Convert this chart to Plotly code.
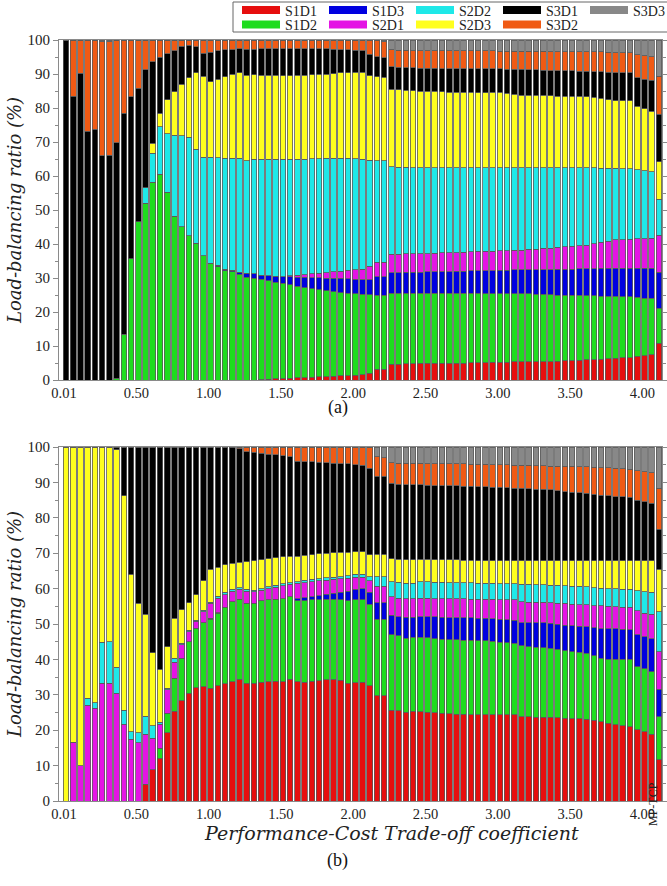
import plotly.graph_objects as go

# ---------------- categories / tick labels ----------------
COEFFS = ["0.01"] + [f"{0.05 * k:.2f}" for k in range(1, 82)] + ["MP-TCP"]
TICK_LABELS = ["0.01", "0.50", "1.00", "1.50", "2.00", "2.50", "3.00", "3.50", "4.00"]

SERIES = ["S1D1", "S1D2", "S1D3", "S2D1", "S2D2", "S2D3", "S3D1", "S3D2", "S3D3"]
COLORS = ["#e60e0e", "#1edc1e", "#0000e0", "#e414e4", "#1ee8e8", "#ffff1e", "#000000", "#f05a14", "#888888"]

# ---------------- panel (a) values (%) ----------------
A_S1D1 = [0, 0, 0, 0, 0, 0, 0, 0, 0, 0,
          0, 0, 0, 0, 0, 0, 0, 0, 0, 0,
          0, 0, 0, 0, 0, 0, 0, 0.1, 0.2, 0.3,
          0.4, 0.5, 0.6, 0.7, 0.8, 0.9, 1.0, 1.1, 1.2, 1.3,
          1.4, 1.5, 2.0, 3.1, 3.1, 4.6, 4.7, 4.8, 4.8, 4.9,
          4.9, 4.9, 5.0, 5.0, 5.0, 5.0, 5.1, 5.1, 5.1, 5.2,
          5.2, 5.2, 5.3, 5.3, 5.3, 5.4, 5.4, 5.4, 5.5, 5.6,
          5.7, 5.8, 5.9, 6.0, 6.1, 6.2, 6.4, 6.5, 6.6, 7.0,
          7.2, 7.4, 10.8]
A_S1D2 = [0, 0, 0, 0, 0, 0, 0, 0.5, 13.5, 35.6,
          46.6, 52.0, 58.1, 60.5, 55.2, 48.2, 45.1, 42.4, 40.2, 36.5,
          34.3, 33.3, 32.2, 31.8, 31.1, 30.2, 30.0, 29.5, 29.0, 28.5,
          28.0, 27.5, 27.0, 26.5, 26.1, 25.7, 25.3, 24.9, 24.5, 24.2,
          23.9, 23.7, 23.1, 21.9, 21.9, 20.9, 20.8, 20.7, 20.7, 20.6,
          20.6, 20.6, 20.5, 20.5, 20.5, 20.5, 20.4, 20.4, 20.3, 20.2,
          20.2, 20.2, 20.0, 20.0, 20.0, 19.8, 19.8, 19.7, 19.5, 19.4,
          19.2, 19.1, 18.9, 18.8, 18.6, 18.5, 18.2, 18.0, 17.9, 17.3,
          16.9, 16.6, 10.3]
A_S1D3 = [0, 0, 0, 0, 0, 0, 0, 0, 0, 0,
          0, 0, 0, 0, 0, 0, 0, 0, 0, 0,
          0, 0.5, 0.4, 0.5, 0.6, 1.2, 1.3, 1.2, 1.4, 1.7,
          2.0, 2.3, 2.6, 3.0, 3.2, 3.5, 3.7, 4.0, 4.3, 4.3,
          4.3, 4.3, 4.4, 5.4, 5.4, 6.1, 6.1, 6.2, 6.2, 6.2,
          6.3, 6.3, 6.4, 6.4, 6.5, 6.5, 6.6, 6.6, 6.8, 6.8,
          6.9, 6.9, 7.1, 7.1, 7.1, 7.3, 7.3, 7.4, 7.6, 7.6,
          7.7, 7.8, 7.9, 7.9, 8.1, 8.1, 8.2, 8.3, 8.3, 8.5,
          8.7, 8.8, 10.6]
A_S2D1 = [0, 0, 0, 0, 0, 0, 0, 0, 0, 0,
          0, 0, 0, 0, 0, 0, 0, 0, 0, 0,
          0, 0, 0, 0, 0, 0, 0, 0, 0, 0,
          0, 0.3, 0.6, 0.8, 1.1, 1.3, 1.6, 1.8, 2.0, 2.5,
          2.9, 3.1, 4.0, 4.2, 4.2, 5.4, 5.4, 5.4, 5.4, 5.4,
          5.4, 5.5, 5.5, 5.5, 5.5, 5.6, 5.6, 5.7, 5.6, 5.7,
          5.7, 5.7, 5.7, 5.8, 6.0, 6.0, 6.2, 6.3, 6.4, 6.6,
          6.8, 6.8, 7.0, 7.4, 7.7, 8.0, 8.4, 8.5, 8.6, 8.7,
          8.8, 8.9, 10.9]
A_S2D2 = [0, 0, 0, 0, 0, 0, 0, 0, 0, 0,
          0, 4.6, 8.6, 14.0, 17.3, 23.8, 26.7, 29.0, 27.7, 29.0,
          31.2, 31.6, 32.6, 32.9, 33.5, 33.1, 33.7, 34.2, 34.3, 34.4,
          34.5, 34.3, 34.2, 34.0, 33.9, 33.7, 33.6, 33.4, 33.2, 32.9,
          32.6, 32.4, 31.2, 29.9, 29.9, 25.7, 25.6, 25.5, 25.4, 25.4,
          25.3, 25.2, 25.1, 25.1, 25.0, 24.9, 24.8, 24.7, 24.7, 24.6,
          24.5, 24.5, 24.4, 24.3, 24.1, 24.0, 23.8, 23.7, 23.5, 23.2,
          23.0, 22.9, 22.7, 22.3, 21.8, 21.5, 21.1, 20.9, 20.8, 20.3,
          19.9, 19.6, 10.5]
A_S2D3 = [0, 0, 0, 0, 0, 0, 0, 0, 0, 0,
          0, 0, 2.9, 3.9, 9.9, 12.8, 15.2, 17.5, 22.5, 23.9,
          22.2, 23.0, 24.0, 24.7, 25.2, 25.2, 24.8, 24.7, 24.7, 24.7,
          24.6, 24.6, 24.6, 24.7, 24.7, 24.8, 24.8, 24.9, 25.1, 25.2,
          25.4, 25.5, 24.8, 24.7, 24.5, 22.8, 22.7, 22.6, 22.6, 22.5,
          22.5, 22.4, 22.3, 22.2, 22.2, 22.1, 22.1, 22.0, 22.0, 22.1,
          22.1, 21.8, 21.5, 21.3, 21.3, 21.2, 21.2, 21.1, 21.0, 21.1,
          21.0, 21.0, 20.9, 20.7, 20.6, 20.2, 19.9, 20.0, 19.9, 18.7,
          18.3, 17.8, 11.1]
A_S3D1 = [100, 83.5, 90.2, 73.2, 73.8, 65.9, 66.1, 69.3, 64.9, 47.7,
          39.2, 34.6, 24.0, 16.5, 13.5, 12.1, 11.2, 9.6, 7.6, 6.7,
          8.7, 8.4, 7.9, 7.3, 7.0, 7.6, 7.5, 7.7, 7.8, 7.8,
          8.0, 8.0, 7.9, 7.8, 7.7, 7.5, 7.4, 7.2, 6.9, 6.7,
          6.5, 6.3, 6.3, 5.9, 5.8, 6.7, 6.7, 6.7, 6.7, 6.7,
          6.7, 6.8, 6.8, 6.9, 6.9, 6.9, 6.9, 7.0, 7.0, 6.9,
          6.9, 7.1, 7.4, 7.6, 7.5, 7.5, 7.4, 7.4, 7.5, 7.4,
          7.5, 7.4, 7.5, 7.6, 7.7, 8.0, 8.2, 8.2, 8.2, 8.4,
          8.7, 9.1, 14.0]
A_S3D2 = [0, 16.5, 9.8, 26.8, 26.2, 33.6, 33.4, 30.2, 21.6, 16.7,
          14.2, 8.8, 6.4, 5.1, 4.1, 3.1, 1.8, 1.5, 2.0, 3.9,
          3.6, 3.2, 2.9, 2.8, 2.6, 2.7, 2.7, 2.6, 2.6, 2.6,
          2.5, 2.5, 2.5, 2.5, 2.5, 2.6, 2.6, 2.7, 2.8, 2.9,
          3.0, 3.2, 4.2, 4.9, 4.7, 4.9, 5.0, 5.1, 5.1, 5.2,
          5.2, 5.2, 5.3, 5.2, 5.2, 5.3, 5.3, 5.3, 5.3, 5.3,
          5.2, 5.3, 5.3, 5.3, 5.4, 5.5, 5.6, 5.6, 5.6, 5.7,
          5.7, 5.8, 5.8, 5.8, 5.9, 5.9, 5.9, 5.9, 5.9, 6.7,
          6.8, 6.9, 11.2]
A_S3D3 = [0, 0, 0, 0, 0, 0.5, 0.5, 0, 0, 0,
          0, 0, 0, 0, 0, 0, 0, 0, 0, 0,
          0, 0, 0, 0, 0, 0, 0, 0, 0, 0,
          0, 0, 0, 0, 0, 0, 0, 0, 0, 0,
          0, 0, 0, 0, 0.5, 2.9, 3.0, 3.0, 3.1, 3.1,
          3.1, 3.1, 3.1, 3.2, 3.2, 3.2, 3.2, 3.2, 3.2, 3.2,
          3.3, 3.3, 3.3, 3.3, 3.3, 3.3, 3.3, 3.4, 3.4, 3.4,
          3.4, 3.4, 3.4, 3.5, 3.5, 3.6, 3.7, 3.7, 3.8, 4.4,
          4.7, 4.9, 10.6]

# ---------------- panel (b) values (%) ----------------
B_S1D1 = [0, 0, 0, 0, 0, 0, 0, 0, 0, 0,
          0, 4.8, 8.8, 12.1, 19.3, 25.4, 28.3, 30.4, 32.0, 32.3,
          31.8, 32.5, 33.1, 33.7, 34.3, 33.3, 33.3, 33.6, 33.7, 33.8,
          33.7, 34.4, 33.7, 33.6, 33.8, 34.0, 34.2, 34.2, 34.1, 33.2,
          33.4, 33.5, 32.5, 29.7, 29.7, 25.7, 25.5, 25.1, 25.3, 25.2,
          25.1, 24.9, 24.8, 24.6, 24.5, 24.5, 24.4, 24.4, 24.3, 24.3,
          24.3, 24.3, 24.3, 23.8, 23.8, 23.7, 23.7, 23.6, 23.5, 23.4,
          23.3, 23.2, 23.1, 22.8, 22.4, 22.0, 21.5, 21.3, 21.0, 20.1,
          19.6, 18.9, 11.6]
B_S1D2 = [0, 0, 0, 0, 0, 0, 0, 0, 0, 0,
          0, 0, 0, 2.8, 5.5, 9.3, 12.0, 14.6, 16.8, 18.1,
          19.5, 20.5, 21.5, 22.6, 22.7, 22.5, 22.5, 22.9, 23.1, 23.2,
          23.5, 23.3, 22.8, 23.0, 23.0, 22.9, 22.8, 22.8, 22.7, 23.4,
          23.4, 23.3, 23.1, 21.6, 21.6, 21.2, 21.2, 20.9, 20.9, 21.0,
          21.0, 21.0, 20.9, 20.9, 21.0, 20.9, 21.0, 20.9, 21.0, 20.8,
          20.6, 20.4, 20.2, 20.0, 19.8, 19.8, 19.6, 19.5, 19.3, 19.1,
          18.9, 18.8, 18.6, 18.2, 17.9, 18.1, 18.5, 18.7, 19.0, 17.8,
          17.8, 17.6, 12.2]
B_S1D3 = [0, 0, 0, 0, 0, 0, 0, 0, 0, 0,
          0, 0, 0, 0, 0, 0, 0, 0, 0, 0,
          0.3, 0.2, 0.2, 0, 0, 0, 0, 0, 0, 0,
          0, 0, 0.6, 0.8, 0.9, 1.1, 1.4, 1.7, 2.1, 2.7,
          3.0, 3.1, 3.4, 4.7, 4.7, 5.6, 5.3, 5.9, 5.7, 5.9,
          5.9, 6.1, 6.2, 6.3, 6.3, 6.3, 6.3, 6.3, 6.3, 6.4,
          6.5, 6.5, 6.6, 6.6, 6.8, 6.8, 7.0, 7.1, 7.2, 7.2,
          7.3, 7.4, 7.5, 7.9, 8.3, 8.5, 8.6, 8.5, 8.4, 9.0,
          9.0, 9.4, 7.7]
B_S2D1 = [0, 16.6, 10.0, 27.0, 26.2, 33.2, 33.2, 30.4, 21.7, 17.4,
          16.5, 14.1, 8.9, 6.8, 6.6, 4.5, 3.8, 2.8, 2.0, 3.1,
          4.2, 4.1, 3.5, 3.0, 2.8, 3.5, 3.3, 3.1, 3.2, 3.4,
          3.6, 3.5, 4.4, 4.3, 4.3, 4.2, 4.0, 3.9, 3.9, 3.6,
          3.4, 3.3, 3.2, 4.7, 4.7, 5.2, 5.3, 5.2, 5.2, 5.2,
          5.3, 5.2, 5.3, 5.3, 5.3, 5.4, 5.3, 5.4, 5.4, 5.5,
          5.5, 5.7, 5.7, 5.9, 5.8, 5.8, 5.8, 5.8, 5.9, 6.1,
          6.1, 6.1, 6.2, 6.3, 6.5, 6.4, 6.3, 6.3, 6.3, 6.8,
          6.6, 6.9, 10.7]
B_S2D2 = [0, 0, 0, 2.0, 1.6, 11.6, 11.8, 7.4, 4.0, 2.2,
          2.8, 5.1, 3.5, 0.5, 0.4, 1.1, 0.4, 0.5, 0.3, 0.4,
          0.4, 0.5, 0.6, 0.5, 0.4, 0.5, 0.4, 0.4, 0.5, 0.5,
          0.6, 0.5, 0.5, 0.6, 0.6, 0.6, 0.6, 0.6, 0.6, 0.7,
          0.8, 0.8, 1.2, 2.7, 2.7, 4.3, 4.5, 4.4, 4.4, 4.7,
          4.6, 4.6, 4.6, 4.6, 4.6, 4.5, 4.6, 4.5, 4.5, 4.5,
          4.5, 4.5, 4.6, 5.0, 5.0, 5.0, 5.0, 5.0, 5.0, 5.0,
          5.1, 5.1, 5.1, 5.1, 5.0, 5.0, 5.0, 5.0, 5.1, 5.7,
          6.1, 6.1, 11.3]
B_S2D3 = [100, 83.4, 90.0, 71.0, 72.2, 55.2, 55.0, 61.4, 60.5, 44.4,
          36.5, 28.7, 20.7, 15.0, 11.8, 11.3, 9.5, 7.7, 7.2, 8.3,
          9.2, 8.2, 7.8, 7.3, 7.2, 7.8, 8.3, 8.1, 7.9, 7.8,
          7.6, 7.4, 7.2, 7.1, 7.0, 7.0, 7.0, 6.9, 6.8, 6.7,
          6.4, 6.4, 6.1, 6.3, 6.3, 6.5, 6.5, 6.6, 6.6, 6.3,
          6.4, 6.4, 6.4, 6.4, 6.4, 6.4, 6.4, 6.4, 6.4, 6.4,
          6.5, 6.5, 6.5, 6.6, 6.7, 6.8, 6.8, 6.9, 7.0, 7.1,
          7.2, 7.3, 7.4, 7.6, 7.8, 7.9, 8.0, 8.1, 8.1, 8.5,
          8.8, 9.0, 11.9]
B_S3D1 = [0, 0, 0, 0, 0, 0, 0, 0.8, 13.8, 36.0,
          44.2, 47.3, 58.1, 62.8, 56.4, 48.4, 46.0, 44.0, 41.7, 37.8,
          34.6, 34.0, 33.3, 32.8, 32.1, 31.1, 30.7, 30.2, 29.6, 29.1,
          28.6, 28.1, 26.8, 26.5, 26.2, 25.9, 25.5, 25.3, 25.1, 24.9,
          24.6, 24.5, 24.5, 22.1, 22.1, 21.2, 21.2, 21.2, 21.3, 21.0,
          20.9, 20.9, 20.9, 20.9, 20.9, 20.9, 20.9, 20.9, 20.9, 20.8,
          20.7, 20.6, 20.5, 20.4, 20.3, 20.2, 20.1, 20.0, 19.8, 19.5,
          19.3, 19.2, 19.0, 18.7, 18.5, 18.3, 18.1, 18.0, 17.9, 17.1,
          16.6, 16.2, 11.3]
B_S3D2 = [0, 0, 0, 0, 0, 0, 0, 0, 0, 0,
          0, 0, 0, 0, 0, 0, 0, 0, 0, 0,
          0, 0, 0, 0.1, 0.5, 1.3, 1.5, 1.7, 2.0, 2.2,
          2.4, 2.8, 4.0, 4.1, 4.2, 4.3, 4.5, 4.6, 4.7, 4.8,
          5.0, 5.1, 6.0, 5.5, 5.2, 5.9, 5.9, 6.1, 6.0, 6.1,
          6.1, 6.2, 6.2, 6.2, 6.2, 6.3, 6.2, 6.3, 6.3, 6.3,
          6.4, 6.5, 6.5, 6.6, 6.6, 6.6, 6.7, 6.7, 6.9, 7.1,
          7.3, 7.3, 7.5, 7.7, 7.8, 7.9, 8.0, 7.9, 7.9, 8.3,
          8.5, 8.6, 11.6]
B_S3D3 = [0, 0, 0, 0, 0, 0, 0, 0, 0, 0,
          0, 0, 0, 0, 0, 0, 0, 0, 0, 0,
          0, 0, 0, 0, 0, 0, 0, 0, 0, 0,
          0, 0, 0, 0, 0, 0, 0, 0, 0, 0,
          0, 0, 0, 2.7, 3.0, 4.4, 4.6, 4.6, 4.6, 4.6,
          4.7, 4.7, 4.7, 4.8, 4.8, 4.8, 4.9, 4.9, 4.9, 5.0,
          5.0, 5.0, 5.1, 5.1, 5.2, 5.3, 5.3, 5.4, 5.4, 5.5,
          5.5, 5.6, 5.6, 5.7, 5.8, 5.9, 6.0, 6.2, 6.3, 6.7,
          7.0, 7.3, 11.7]

PANEL_A = [A_S1D1, A_S1D2, A_S1D3, A_S2D1, A_S2D2, A_S2D3, A_S3D1, A_S3D2, A_S3D3]
PANEL_B = [B_S1D1, B_S1D2, B_S1D3, B_S2D1, B_S2D2, B_S2D3, B_S3D1, B_S3D2, B_S3D3]

# legend layout: first row / second row (column-major like the original)
LEGEND_ROW1 = ["S1D1", "S1D3", "S2D2", "S3D1", "S3D3"]
LEGEND_ROW2 = ["S1D2", "S2D1", "S2D3", "S3D2"]

SERIF = "Liberation Serif, Times New Roman, serif"
WIDE_SERIF = "DejaVu Serif, serif"
W, H = 667, 886
ML, MR, MT, MB = 59, 5, 40, 85
PW = W - ML - MR
PH = H - MT - MB


def px_x(p):
    return (p - ML) / PW


def px_y(p):
    return (H - MB - p) / PH


fig = go.Figure()

for name, color, ya, yb in zip(SERIES, COLORS, PANEL_A, PANEL_B):
    for vals, xa, yax in ((ya, "x", "y"), (yb, "x2", "y2")):
        fig.add_trace(go.Bar(
            x=COEFFS, y=vals, name=name, xaxis=xa, yaxis=yax,
            marker=dict(color=color, line=dict(color="#5a5a5a", width=0.8)),
            showlegend=False,
        ))

# legend entries (wide colour swatches)
for name, color in zip(SERIES, COLORS):
    fig.add_trace(go.Scatter(
        x=[None], y=[None], mode="lines", name=name,
        line=dict(color=color, width=8),
        legend="legend" if name in LEGEND_ROW1 else "legend2",
        legendrank=(LEGEND_ROW1 + LEGEND_ROW2).index(name) + 1,
        xaxis="x", yaxis="y", hoverinfo="skip",
    ))

axis_common = dict(showline=True, linecolor="#8a8a8a", linewidth=1, mirror=True,
                   showgrid=False, zeroline=False, automargin=False)
xcommon = dict(type="category", categoryorder="array", categoryarray=COEFFS,
               range=[-0.97, 82.43], tickmode="array", tickvals=TICK_LABELS,
               ticktext=TICK_LABELS, ticks="", ticklabelshift=-2,
               tickfont=dict(family=SERIF, size=14.5, color="#222222"), **axis_common)
ycommon = dict(range=[0, 100], dtick=10, tick0=0, ticks="outside", ticklen=5,
               tickcolor="#8a8a8a", tickwidth=1,
               minor=dict(dtick=5, ticks="outside", ticklen=3, tickcolor="#8a8a8a"),
               tickfont=dict(family=SERIF, size=15, color="#222222"),
               title=dict(text="<i>Load-balancing ratio (%)</i>", standoff=1,
                          font=dict(family=WIDE_SERIF, size=18, color="#222222")),
               **{**axis_common, "mirror": "ticks"})

legend_common = dict(orientation="h", xanchor="left", yanchor="top",
                     bgcolor="rgba(0,0,0,0)", borderwidth=0,
                     itemwidth=38, entrywidth=34,
                     font=dict(family=SERIF, size=14, color="#222222"),
                     traceorder="normal", itemclick=False, itemdoubleclick=False)

fig.update_layout(
    width=W, height=H,
    margin=dict(l=ML, r=MR, t=MT, b=MB, autoexpand=False),
    paper_bgcolor="white", plot_bgcolor="white",
    barmode="stack", bargap=0.22,
    xaxis=dict(domain=[0, 1], anchor="y", **xcommon),
    yaxis=dict(domain=[px_y(380), 1], anchor="x", **ycommon),
    xaxis2=dict(domain=[0, 1], anchor="y2", **xcommon),
    yaxis2=dict(domain=[0, px_y(447)], anchor="x2", **ycommon),
    legend=dict(x=px_x(237), y=px_y(-5.5), **legend_common),
    legend2=dict(x=px_x(237), y=px_y(9), **legend_common),
    shapes=[dict(type="rect", xref="paper", yref="paper",
                 x0=px_x(233), x1=px_x(668), y0=px_y(32), y1=px_y(2),
                 line=dict(color="#666666", width=1))],
    annotations=[
        dict(text="(a)", xref="paper", yref="paper", x=px_x(338), y=px_y(407),
             showarrow=False, font=dict(family=SERIF, size=18, color="#111111")),
        dict(text="(b)", xref="paper", yref="paper", x=px_x(337), y=px_y(873),
             showarrow=False, font=dict(family=SERIF, size=18, color="#111111")),
        dict(text="<i>Performance-Cost Trade-off coefficient</i>", xref="paper", yref="paper",
             x=px_x(391), y=px_y(846), showarrow=False,
             font=dict(family=WIDE_SERIF, size=19, color="#222222")),
        dict(text="MP-TCP", xref="paper", yref="paper", x=px_x(662), y=px_y(828),
             textangle=-90, showarrow=False,
             font=dict(family=SERIF, size=12, color="#222222")),
    ],
)

# the page is photographed edge to edge: drop the browser's default body margin
fig.write_html("out.html", config={"displayModeBar": False},
               post_script="document.body.style.margin='0px';")
